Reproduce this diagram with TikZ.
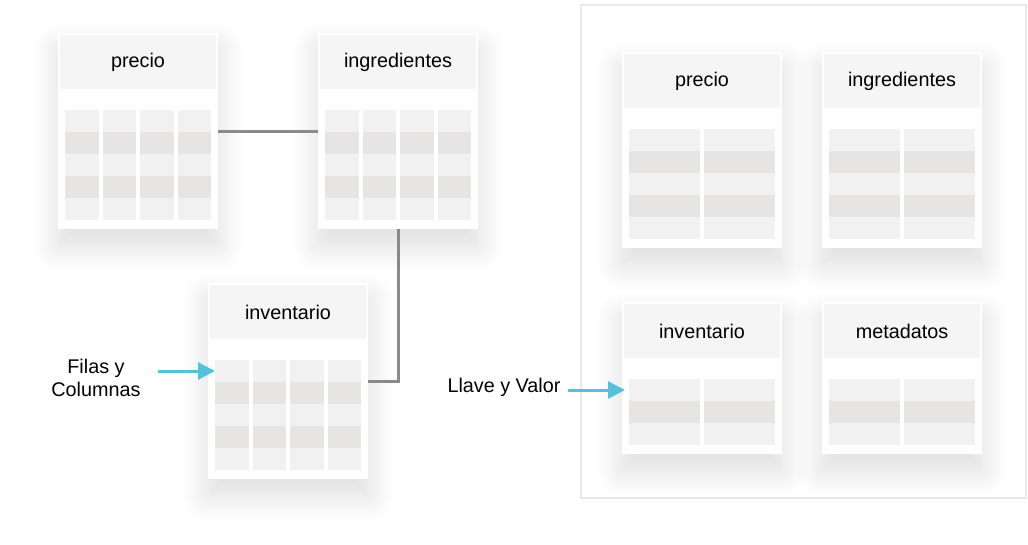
\documentclass[tikz,border=0pt]{standalone}
\usepackage{fontspec}
\setmainfont{Liberation Sans}
\usepackage{xcolor}
\usepackage{tikz}
\usetikzlibrary{arrows.meta}
\usetikzlibrary{shadows.blur}
\definecolor{cabecera}{HTML}{F5F5F5}
\definecolor{celdaclara}{HTML}{F1F1F1}
\definecolor{celdaoscura}{HTML}{E6E5E3}
\definecolor{gris}{HTML}{8A8A8A}
\definecolor{cian}{HTML}{56C1D8}
\definecolor{borde}{HTML}{E8E8E8}
\tikzstyle{tabla} = [anchor=north west, fill=white, inner sep=0pt, minimum width=160pt,
  blur shadow={shadow xshift=0pt, shadow yshift=-16pt, shadow blur radius=26pt, shadow opacity=14, shadow blur steps=16}]
\tikzstyle{conector} = [draw=gris, line width=3pt]
\tikzstyle{flecha} = [draw=cian, line width=3pt, -{Triangle[length=17pt,width=17pt]}]
\tikzstyle{texto} = [font=\fontsize{19.8}{23}\selectfont, align=center, inner sep=0pt]

% nombre, x, y, titulo, columnas, filas
\newcommand{\tabla}[6]{%
  \node[tabla, minimum height=86pt+22pt*#6] (#1) at (#2,#3) {};
  \fill[cabecera] ({#2+2},{#3+2}) rectangle ++(156,54);
  \node[texto] (#1-titulo) at ({#2+80},{#3+29}) {#4};
  \pgfmathsetmacro{\anchocol}{(146-4*(#5-1))/#5}
  \pgfmathtruncatemacro{\nosc}{#6/2}
  \foreach \c in {1,...,#5} {
    \pgfmathsetmacro{\cx}{#2+7+(\c-1)*(\anchocol+4)}
    \fill[celdaclara] ({\cx},{#3+77}) rectangle ++({\anchocol},{22*#6});
    \foreach \f in {1,...,\nosc}
      \fill[celdaoscura] ({\cx},{#3+77+(2*\f-1)*22}) rectangle ++({\anchocol},22);
  }
  \coordinate (#1-fila) at ({#2+7},{#3+88});
}

\begin{document}
\begin{tikzpicture}[x=1pt, y=-1pt]
    \useasboundingbox (0,0) rectangle (1028,544);

    \draw[borde, line width=1.5pt] (581,5) rectangle (1026,498);

    \tabla{precio}{58}{33}{precio}{4}{5}
    \tabla{ingredientes}{318}{33}{ingredientes}{4}{5}
    \tabla{inventario}{208}{283}{inventario}{4}{5}

    \tabla{precio-kv}{622}{52}{precio}{2}{5}
    \tabla{ingredientes-kv}{822}{52}{ingredientes}{2}{5}
    \tabla{inventario-kv}{622}{302}{inventario}{2}{3}
    \tabla{metadatos-kv}{822}{302}{metadatos}{2}{3}

    \draw[conector] (precio) -- (ingredientes);
    \draw[conector] (ingredientes.south) |- (inventario.east);

    \node[texto] (filas) at (96,378) {Filas y\\Columnas};
    \node[texto] (llave) at (504,387) {Llave y Valor};

    \draw[flecha] (filas.east |- inventario-fila) ++(17pt,0) -- (inventario-fila);
    \draw[flecha] (llave.east |- inventario-kv-fila) ++(7pt,0) -- ([xshift=-4pt]inventario-kv-fila);
\end{tikzpicture}
\end{document}
